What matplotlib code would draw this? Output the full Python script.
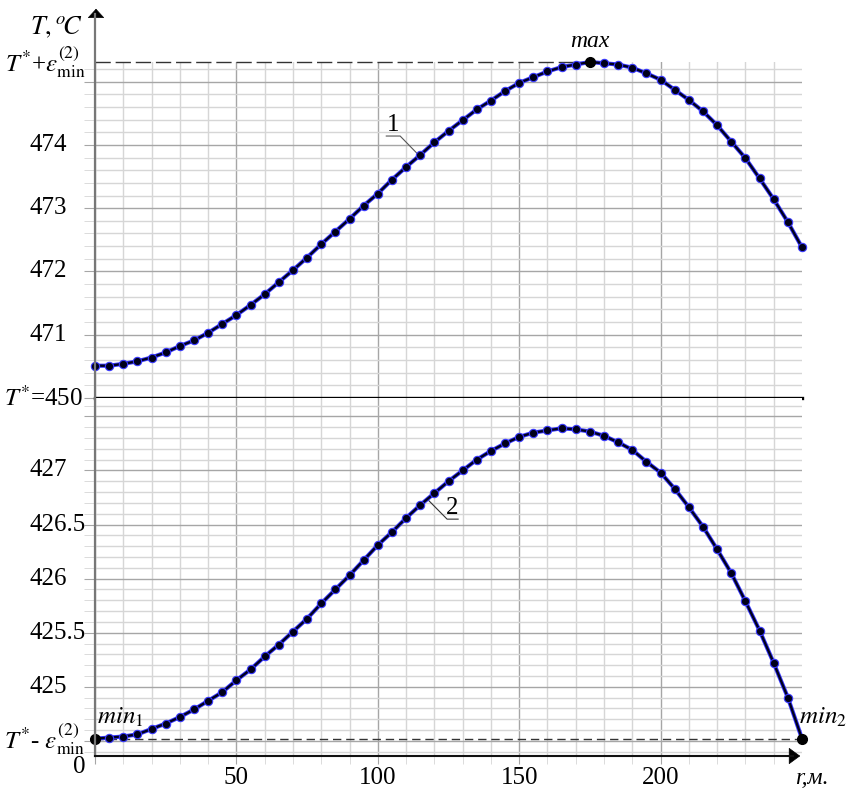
import numpy as np
import matplotlib
matplotlib.use("Agg")
import matplotlib.pyplot as plt
import matplotlib.transforms as mtransforms
from matplotlib.ticker import FixedLocator, MultipleLocator
from matplotlib.lines import Line2D

plt.rcParams["font.family"] = "serif"
plt.rcParams["font.serif"] = ["Liberation Serif", "Times New Roman", "DejaVu Serif"]
plt.rcParams["mathtext.fontset"] = "stix"

W, H = 847, 789

# distance r, m (points every 5 m)
r = np.arange(0, 251, 5)

# curve 1 (upper part of the axis), deg C
T1 = [470.51, 470.51, 470.54, 470.58, 470.64, 470.72, 470.82, 470.91, 471.03, 471.17,
      471.31, 471.47, 471.64, 471.83, 472.02, 472.22, 472.43, 472.63, 472.83, 473.04,
      473.23, 473.45, 473.65, 473.84, 474.04, 474.22, 474.39, 474.56, 474.70, 474.85,
      474.98, 475.07, 475.16, 475.23, 475.27, 475.31, 475.29, 475.27, 475.22, 475.13,
      475.03, 474.87, 474.71, 474.53, 474.31, 474.05, 473.79, 473.47, 473.14, 472.78,
      472.38]

# curve 2 (lower part of the axis), deg C
T2 = [424.52, 424.53, 424.54, 424.56, 424.61, 424.66, 424.72, 424.79, 424.87, 424.95,
      425.06, 425.16, 425.28, 425.39, 425.51, 425.63, 425.77, 425.90, 426.03, 426.17,
      426.31, 426.43, 426.56, 426.68, 426.79, 426.90, 427.00, 427.10, 427.18, 427.25,
      427.31, 427.35, 427.37, 427.39, 427.38, 427.36, 427.32, 427.26, 427.19, 427.08,
      426.98, 426.83, 426.66, 426.48, 426.27, 426.05, 425.79, 425.52, 425.22, 424.90,
      424.52]

up_ticks = [471, 472, 473, 474]
lo_ticks = [425, 425.5, 426, 426.5, 427]
x_ticks = [50, 100, 150, 200]

T1 = np.array(T1)
T2 = np.array(T2)

MAJ = "#a6a6a6"
MIN = "#d6d6d6"
FS = 18


def fx(px):
    return px / W


def fy(py):
    return 1 - py / H


fig = plt.figure(figsize=(W / 100, H / 100), dpi=100)
ax_up = fig.add_axes([fx(95), fy(398), fx(802) - fx(95), fy(62) - fy(398)])
ax_lo = fig.add_axes([fx(95), fy(756), fx(802) - fx(95), fy(398) - fy(756)])

ax_up.set_ylim(470.0, T1.max())
ax_lo.set_ylim(424.36, 427.67)
ax_up.yaxis.set_major_locator(MultipleLocator(1))
ax_up.yaxis.set_minor_locator(MultipleLocator(0.2))
ax_lo.yaxis.set_major_locator(MultipleLocator(0.5))
ax_lo.yaxis.set_minor_locator(MultipleLocator(0.1))

for ax in (ax_up, ax_lo):
    ax.set_xlim(0, 250)
    ax.xaxis.set_major_locator(FixedLocator([0, 50, 100, 150, 200]))
    ax.xaxis.set_minor_locator(FixedLocator([v for v in range(10, 250, 10) if v % 50]))
    ax.grid(which="major", color=MAJ, lw=1)
    ax.grid(which="minor", color=MIN, lw=1)
    ax.set_axisbelow(True)
    for s in ax.spines.values():
        s.set_visible(False)
    ax.tick_params(axis="y", which="major", length=8, color=MAJ, labelleft=False)
    ax.tick_params(axis="y", which="minor", length=8, color=MIN)

ax_up.tick_params(axis="x", which="both", length=0, labelbottom=False)
ax_lo.tick_params(axis="x", which="major", length=6, color=MAJ, labelsize=FS, pad=2)
ax_lo.tick_params(axis="x", which="minor", length=6, color=MIN)
ax_lo.set_xticklabels([""] + [str(v) for v in x_ticks])

# curves
for ax, T in ((ax_up, T1), (ax_lo, T2)):
    ax.plot(r, T, color="#3838ff", lw=3.0, clip_on=False, zorder=3)
    ax.plot(r, T, color="#00001e", lw=1.7, marker="o", ms=6, mfc="#00001a",
            mec="#3a3aff", mew=0.8, clip_on=False, zorder=4)

i_max = int(np.argmax(T1))
ax_up.plot(r[i_max], T1[i_max], "o", color="black", ms=7, clip_on=False, zorder=5)
ax_lo.plot([r[0], r[-1]], [T2[0], T2[-1]], "o", color="black", ms=7, clip_on=False, zorder=5)

# reference lines
ax_up.hlines(T1.max(), 0, r[i_max], color="#333333", lw=1, linestyles=(0, (11, 3.5)),
             clip_on=False, zorder=2)
ax_lo.hlines(T2[0], 0, 250, color="#333333", lw=1, linestyles=(0, (6, 3.5)),
             clip_on=False, zorder=2)
ax_up.axhline(470.0, color="black", lw=2.4, clip_on=False, zorder=3)

# axes with arrows
fig.add_artist(Line2D([fx(95), fx(95)], [fy(756), fy(14)], color="#777777", lw=1.6))
fig.add_artist(Line2D([fx(95), fx(793)], [fy(756), fy(756)], color="#111111", lw=1.5))
ax_lo.annotate("", xy=(fx(96), fy(6)), xytext=(fx(96), fy(16)), xycoords="figure fraction",
               textcoords="figure fraction",
               arrowprops=dict(arrowstyle="-|>,head_length=0.6,head_width=0.55",
                               color="black", lw=0.5, mutation_scale=10))
ax_lo.annotate("", xy=(fx(803), fy(756)), xytext=(fx(790), fy(756)), xycoords="figure fraction",
               textcoords="figure fraction",
               arrowprops=dict(arrowstyle="-|>,head_length=0.75,head_width=0.55",
                               color="black", lw=0.5, mutation_scale=10))

# y labels
tr_up = mtransforms.blended_transform_factory(fig.transFigure, ax_up.transData)
tr_lo = mtransforms.blended_transform_factory(fig.transFigure, ax_lo.transData)
for v in up_ticks:
    ax_up.text(fx(29), v, str(v), transform=tr_up, ha="left", va="center", fontsize=FS)
for v in lo_ticks:
    ax_lo.text(fx(29), v, f"{v:g}", transform=tr_lo, ha="left", va="center", fontsize=FS)

ax_up.text(fx(85), T1.max(), r"$T^{*}$+$\varepsilon_{\mathrm{min}}^{(2)}$", transform=tr_up,
           ha="right", va="center", fontsize=18)
ax_up.text(fx(83), 470.0, r"$T^{*}$=450", transform=tr_up,
           ha="right", va="center", fontsize=18)
ax_lo.text(fx(85), T2[0], r"$T^{*}$- $\varepsilon_{\mathrm{min}}^{(2)}$", transform=tr_lo,
           ha="right", va="center", fontsize=18)
fig.text(fx(83), fy(27), r"$T,^{o}\!C$", ha="right", va="center", fontsize=19)
fig.text(fx(79), fy(767), "0", ha="center", va="center", fontsize=FS)
fig.text(fx(812), fy(779), "r,м.", ha="center", va="center", fontsize=17, style="italic")

# point names
ax_up.annotate("max", xy=(r[i_max], T1[i_max]), xytext=(0, 7), textcoords="offset points",
               ha="center", va="bottom", fontsize=17, style="italic")
fig.text(fx(97), fy(717), r"$min_1$", ha="left", va="center", fontsize=18)
fig.text(fx(799), fy(717), r"$min_2$", ha="left", va="center", fontsize=18)

# curve numbers with leaders
ax_up.plot([103.0, 107.9, 114.0], [474.14, 474.14, 473.86], color="#555555", lw=0.8)
ax_up.text(105.4, 474.14, "1", ha="center", va="bottom", fontsize=FS)
ax_lo.plot([117.7, 124.5, 128.4], [426.73, 426.55, 426.55], color="#333333", lw=0.8)
ax_lo.text(126.4, 426.55, "2", ha="center", va="bottom", fontsize=FS)

fig.savefig("out.png", dpi=100)
